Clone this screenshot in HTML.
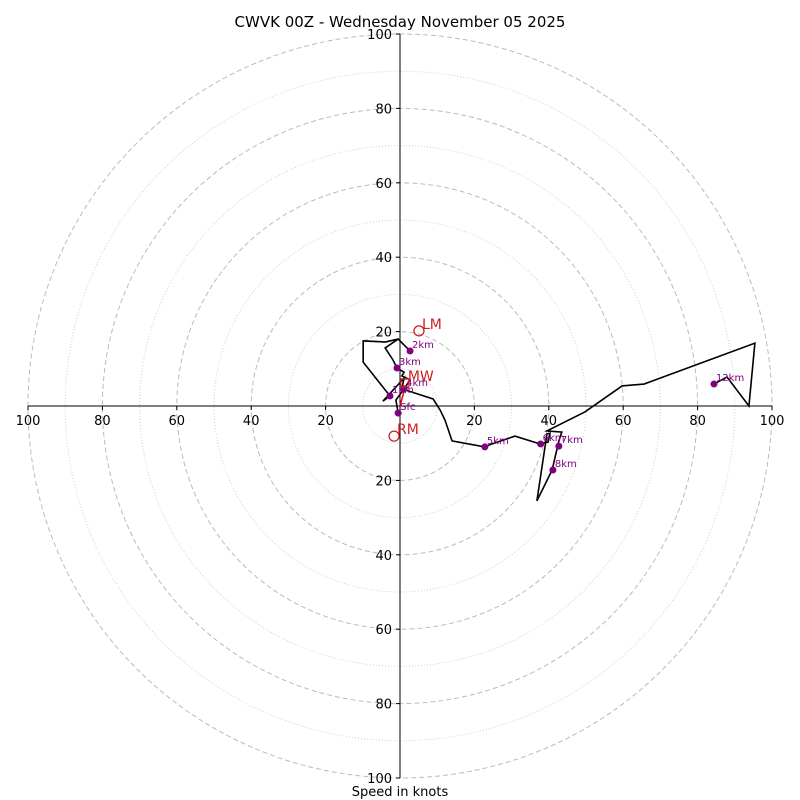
<!DOCTYPE html>
<html><head><meta charset="utf-8"><style>
body{margin:0;background:#fff}
svg{display:block;font-family:"DejaVu Sans","Liberation Sans",sans-serif}
</style></head><body>
<svg id="c" width="800" height="800" viewBox="0 0 800 800">
<text x="400" y="27" text-anchor="middle" font-size="15">CWVK 00Z - Wednesday November 05 2025</text>
<text x="400" y="796" text-anchor="middle" font-size="13">Speed in knots</text>
<g id="grid"></g><g id="axes"></g><g id="plot"></g>
</svg>
<script>
const ringSpeeds=[10,20,30,40,50,60,70,80,90,100];
const tickLabels=[20,40,60,80,100];
const pathU=[-0.5,-1.1,1.1,2.7,0.5,1.1,-0.8,-1.9,-4.0,-0.5,2.7,-0.5,-4.0,-9.9,-9.9,-2.7,-4.6,1.1,0.5,8.9,10.8,12.1,14.0,22.8,24.7,30.9,37.6,39.8,40.3,39.5,36.8,40.9,42.7,43.5,39.5,49.7,59.7,65.6,95.4,93.8,87.9,84.4];
const pathV=[-1.9,1.6,4.6,7.0,8.1,9.1,10.2,12.4,15.6,18.0,14.8,18.0,17.2,17.5,11.8,2.7,1.3,7.5,4.6,1.9,-1.1,-3.8,-9.4,-11.0,-10.2,-8.1,-10.2,-9.7,-7.3,-7.5,-25.5,-17.2,-9.4,-7.0,-6.7,-1.6,5.4,5.9,16.9,0,7.8,5.9];
const lvlNames=["Sfc","1km","2km","3km","4km","5km","6km","7km","8km","12km"];
const lvlU=[-0.5,-2.7,2.7,-0.8,1.1,22.8,37.8,42.7,41.1,84.4];
const lvlV=[-1.9,2.7,14.8,10.2,4.6,-11.0,-10.2,-10.8,-17.2,5.9];
const motionNames=["LM","RM","MW"];
const motionU=[5.1,-1.6,1.3];
const motionV=[20.2,-8.1,6.2];
const cx=400,cy=406,k=3.72;
const X=u=>cx+u*k, Y=v=>cy-v*k;
const NS="http://www.w3.org/2000/svg";
function mk(t,a,p){const e=document.createElementNS(NS,t);for(const n in a)e.setAttribute(n,a[n]);p.appendChild(e);return e;}
const grid=document.getElementById('grid'),axes=document.getElementById('axes'),plot=document.getElementById('plot');
ringSpeeds.forEach(s=>{const e=mk('circle',{cx:cx,cy:cy,r:s*k,fill:'none',stroke:s%20===0?'#bbb':'#d0d0d0','stroke-width':1,'stroke-dasharray':s%20===0?'5,3':'1,2'},grid);

});
let e=mk('line',{x1:X(-100),y1:cy,x2:X(100),y2:cy,stroke:'#000','stroke-width':1},axes);


e=mk('line',{x1:cx,y1:Y(100),x2:cx,y2:Y(-100),stroke:'#000','stroke-width':1},axes);


tickLabels.forEach(t=>{[-1,1].forEach(sg=>{
mk('line',{x1:X(sg*t),y1:cy,x2:X(sg*t),y2:cy+4,stroke:'#000'},axes);
let tx=mk('text',{x:X(sg*t),y:cy+19,'text-anchor':'middle','font-size':13},axes);tx.textContent=t;


mk('line',{x1:cx-4,y1:Y(sg*t),x2:cx,y2:Y(sg*t),stroke:'#000'},axes);
let ty=mk('text',{x:cx-8,y:Y(sg*t)+5,'text-anchor':'end','font-size':13},axes);ty.textContent=t;


});});
e=mk('polyline',{points:pathU.map((u,i)=>X(u)+','+Y(pathV[i])).join(' '),fill:'none',stroke:'#000','stroke-width':1.6,'stroke-linejoin':'miter'},plot);


e=mk('line',{x1:X(0),y1:Y(0),x2:X(motionU[2]),y2:Y(motionV[2]-1.5),stroke:'red','stroke-width':1.5},plot);


lvlNames.forEach((n,i)=>{const d=mk('circle',{cx:X(lvlU[i]),cy:Y(lvlV[i]),r:3.5,fill:'purple'},plot);


const t=mk('text',{x:X(lvlU[i])+2,y:Y(lvlV[i])-3,'font-size':10,fill:'purple'},plot);t.textContent=n;

});
motionNames.forEach((n,i)=>{let m;
if(n==='MW'){m=mk('rect',{x:X(motionU[i])-4,y:Y(motionV[i])-4,width:8,height:8,fill:'none',stroke:'#c22','stroke-width':1.3},plot);}
else{m=mk('circle',{cx:X(motionU[i]),cy:Y(motionV[i]),r:5,fill:'none',stroke:'#c22','stroke-width':1.3},plot);}


const t=mk('text',{x:X(motionU[i])+3,y:Y(motionV[i])-2,'font-size':14,fill:'#c22'},plot);t.textContent=n;

});
</script>
</body></html>
